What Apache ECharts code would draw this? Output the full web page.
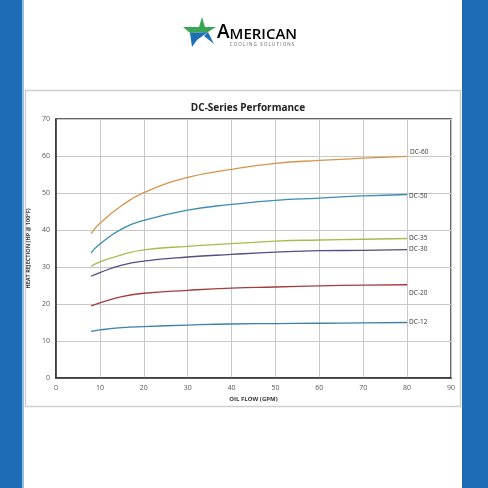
<!DOCTYPE html>
<html>
<head>
<meta charset="utf-8">
<script src="https://cdn.jsdelivr.net/npm/echarts@6/dist/echarts.min.js"></script>
<style>
  html, body { margin: 0; padding: 0; background: #fff; }
  #main { width: 488px; height: 488px; }
</style>
</head>
<body>
<div id="main"></div>
<script>
// oil flow (GPM)
const flow = [8, 10, 15, 20, 30, 40, 50, 60, 70, 80];
// heat rejection (HP @ 100°F)
const dc60 = [39.0, 41.8, 46.6, 50.1, 54.2, 56.4, 58.0, 58.8, 59.4, 59.9];
const dc50 = [33.8, 36.2, 40.3, 42.6, 45.4, 46.9, 48.0, 48.6, 49.2, 49.6];
const dc35 = [30.2, 31.4, 33.3, 34.6, 35.6, 36.3, 37.0, 37.3, 37.5, 37.7];
const dc30 = [27.5, 28.5, 30.5, 31.6, 32.7, 33.4, 34.0, 34.4, 34.5, 34.7];
const dc20 = [19.5, 20.3, 22.0, 22.9, 23.7, 24.3, 24.6, 24.9, 25.1, 25.2];
const dc12 = [12.6, 13.0, 13.6, 13.9, 14.3, 14.6, 14.7, 14.8, 14.9, 15.0];

const font = '"Open Sans", "Liberation Sans", sans-serif';

const chart = echarts.init(document.getElementById('main'));

function pairs(vals) {
  return flow.map((x, i) => [x, vals[i]]);
}

function line(name, vals, color, offset) {
  return {
    name: name,
    type: 'line',
    data: pairs(vals),
    smooth: true,
    symbol: 'none',
    lineStyle: { color: color, width: 1.3 },
    endLabel: {
      show: true,
      formatter: '{a}',
      distance: 2,
      offset: offset,
      color: '#333',
      fontSize: 6.5,
      fontFamily: font
    }
  };
}

chart.setOption({
  animation: false,
  backgroundColor: '#fff',
  title: {
    text: 'DC-Series Performance',
    left: 243,
    top: 98,
    textAlign: 'center',
    textStyle: { fontFamily: font, fontSize: 10, fontWeight: 'bold', color: '#222' }
  },
  graphic: [
    // blue side bands
    { type: 'rect', shape: { x: 0, y: 0, width: 22, height: 488 }, style: { fill: '#1d6cb4' } },
    { type: 'rect', shape: { x: 22, y: 0, width: 2, height: 488 }, style: { fill: '#8fc0e6' } },
    { type: 'rect', shape: { x: 462, y: 0, width: 26, height: 488 }, style: { fill: '#1d6cb4' } },
    // chart frame
    { type: 'rect', shape: { x: 25.5, y: 90.5, width: 435, height: 316 },
      style: { fill: 'none', stroke: '#cfcfcf', lineWidth: 1.5 } },
    // logo star
    { type: 'polygon', shape: { points: [[183, 27], [199, 27], [202, 17], [205, 27], [216, 27], [208, 32], [190, 33]] },
      style: { fill: '#3aa655' } },
    { type: 'polygon', shape: { points: [[190, 33], [208, 32], [197, 40], [192, 47]] },
      style: { fill: '#1f6fb4' } },
    { type: 'polygon', shape: { points: [[204, 36], [208, 32], [214, 44]] },
      style: { fill: '#1f6fb4' } },
    // logo text
    { type: 'text', x: 217, y: 42,
      style: {
        text: '{a|A}{b|MERICAN}',
        verticalAlign: 'bottom',
        rich: {
          a: { fontFamily: font, fontSize: 19, fontWeight: 600, color: '#23232e', verticalAlign: 'bottom' },
          b: { fontFamily: font, fontSize: 15, fontWeight: 600, color: '#23232e', verticalAlign: 'bottom' }
        }
      } },
    { type: 'text', x: 262, y: 45,
      style: { text: 'C O O L I N G   S O L U T I O N S', fontFamily: font, fontSize: 4.5,
        fill: '#666', align: 'center', verticalAlign: 'middle' } }
  ],
  grid: {
    left: 56, right: 37, top: 119, bottom: 110,
    show: true, borderColor: '#333', borderWidth: 1.5, backgroundColor: 'transparent'
  },
  xAxis: {
    type: 'value',
    min: 0, max: 90, interval: 10,
    name: 'OIL FLOW (GPM)',
    nameLocation: 'middle',
    nameGap: 18,
    nameTextStyle: { fontFamily: font, fontSize: 6, fontWeight: 'bold', color: '#333' },
    axisLine: { show: true, lineStyle: { color: '#333', width: 1.5 } },
    axisTick: { show: false },
    axisLabel: { fontFamily: font, fontSize: 7, color: '#555', margin: 6 },
    splitLine: { show: true, lineStyle: { color: '#c8c8c8', width: 1 } }
  },
  yAxis: {
    type: 'value',
    min: 0, max: 70, interval: 10,
    name: 'HEAT REJECTION (HP @ 100°F)',
    nameLocation: 'middle',
    nameRotate: 90,
    nameGap: 19,
    nameTextStyle: { fontFamily: font, fontSize: 5.5, fontWeight: 'bold', color: '#333' },
    axisLine: { show: true, lineStyle: { color: '#333', width: 1.5 } },
    axisTick: { show: false },
    axisLabel: { fontFamily: font, fontSize: 7, color: '#555', margin: 6 },
    splitLine: { show: true, lineStyle: { color: '#c8c8c8', width: 1 } }
  },
  series: [
    line('DC-60', dc60, '#d8944c', [1, -4]),
    line('DC-50', dc50, '#3b8db2', [0, 2]),
    line('DC-35', dc35, '#a9ba4c', [0, 0]),
    line('DC-30', dc30, '#5a4a86', [0, 0]),
    line('DC-20', dc20, '#a43c3e', [0, 8]),
    line('DC-12', dc12, '#3e80a8', [0, 0])
  ]
});
</script>
</body>
</html>
